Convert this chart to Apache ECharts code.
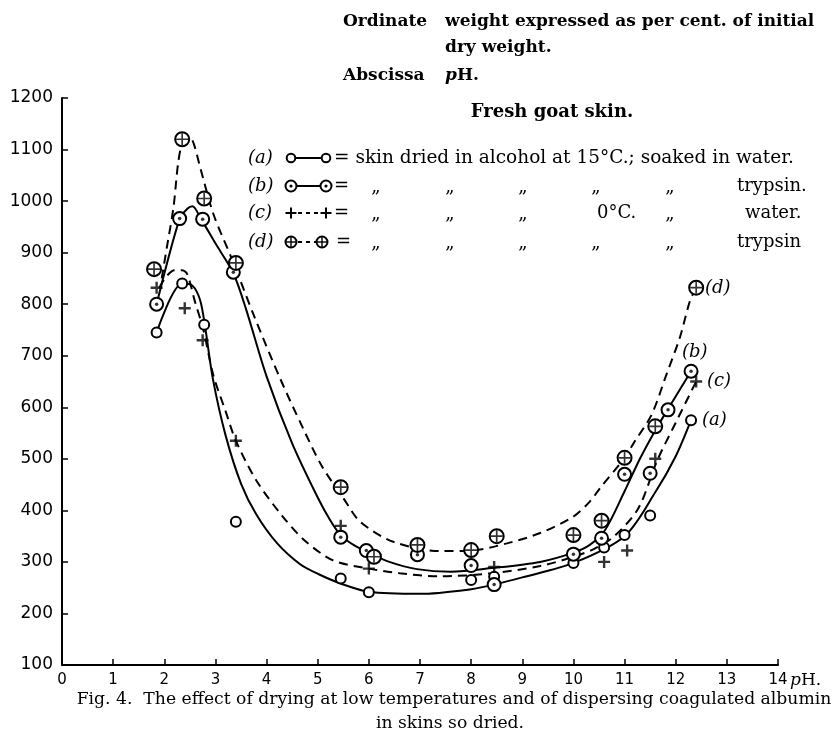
<!DOCTYPE html>
<html><head><meta charset="utf-8">
<script src="https://cdn.jsdelivr.net/npm/echarts@6/dist/echarts.min.js"></script>
<style>html,body{margin:0;padding:0;background:#fff}#c{width:839px;height:738px}</style>
</head><body><div id="c"></div>
<script>
// ---------- data ----------
const xTicks = [0,1,2,3,4,5,6,7,8,9,10,11,12,13,14];
const yTicks = [100,200,300,400,500,600,700,800,900,1000,1100,1200];

// measured points (pH, weight %)
const pointsA = [[1.85,745],[2.35,840],[2.78,760],[3.4,378],[5.45,268],[6.0,241],[8.0,265],[8.45,271],[10.0,298],[10.6,328],[11.0,352],[11.5,390],[12.3,575]];
const pointsB = [[1.85,800],[2.3,966],[2.75,965],[3.35,862],[5.45,348],[5.95,322],[6.95,314],[8.0,293],[8.45,256],[10.0,315],[10.55,346],[11.0,470],[11.5,472],[11.85,595],[12.3,670]];
const pointsC = [[1.85,832],[2.4,792],[2.75,730],[3.4,535],[5.45,370],[6.0,287],[8.45,290],[10.6,300],[11.05,322],[11.6,500],[12.4,650]];
const pointsD = [[1.8,868],[2.35,1120],[2.78,1005],[3.4,880],[5.45,445],[6.1,310],[6.95,333],[8.0,323],[8.5,350],[10.0,352],[10.55,380],[11.0,502],[11.6,563],[12.4,832]];

// hand-drawn fitted curves
const curveA = [[1.85,745],[2.35,840],[2.55,836],[2.7,808],[2.8,755],[2.95,655],[3.2,545],[3.5,452],[3.8,392],[4.2,337],[4.65,296],[5.0,277],[5.45,258],[6.0,242],[7.0,238],[8.0,247],[8.45,256],[9.0,270],[10.0,298],[11.0,350],[11.6,435],[12.0,505],[12.3,575]];
const curveB = [[1.85,800],[2.3,966],[2.45,985],[2.55,990],[2.72,965],[3.0,918],[3.35,860],[3.6,790],[4.0,660],[4.5,530],[5.0,425],[5.25,380],[5.45,352],[5.7,333],[6.0,318],[6.4,300],[6.94,286],[7.6,281],[8.4,288],[9.35,300],[10.0,318],[10.32,333],[10.62,362],[11.0,437],[11.3,500],[11.6,555],[11.9,605],[12.3,670]];
const curveC = [[1.9,832],[2.05,855],[2.2,866],[2.35,866],[2.45,858],[2.6,805],[2.76,752],[2.96,662],[3.2,592],[3.4,535],[3.8,458],[4.3,390],[4.75,341],[5.3,303],[6.0,287],[6.6,278],[7.4,272],[8.4,278],[9.35,292],[10.0,310],[10.4,325],[10.8,350],[11.27,404],[11.63,495],[12.0,570],[12.4,650]];
const curveD = [[1.95,850],[2.05,910],[2.18,988],[2.27,1073],[2.35,1112],[2.45,1122],[2.55,1118],[2.7,1066],[2.96,975],[3.35,881],[3.74,781],[4.26,657],[4.7,562],[5.08,486],[5.5,424],[5.83,378],[6.48,339],[7.39,321],[8.0,322],[8.7,336],[9.35,356],[10.0,388],[10.32,417],[10.52,443],[11.0,502],[11.2,534],[11.53,586],[11.82,664],[12.08,735],[12.28,807],[12.4,832]];

// texts
const headerLines = ['Ordinate', 'weight expressed as per cent. of initial', 'dry weight.', 'Abscissa'];
const subtitle = 'Fresh goat skin.';
const legendKeys = ['(a)', '(b)', '(c)', '(d)'];
const legendRowA = '= skin dried in alcohol at 15°C.; soaked in water.';
const legendEnds = ['trypsin.', 'water.', 'trypsin'];
const curveLabels = ['(a)', '(b)', '(c)', '(d)'];
const captionLines = ['Fig. 4.  The effect of drying at low temperatures and of dispersing coagulated albumin', 'in skins so dried.'];

// ---------- drawing ----------
const SERIF = '"DejaVu Serif", serif';
const SANS = '"DejaVu Sans", sans-serif';
const INK = '#000';
const PLUS = 'path://M4,0H6V4H10V6H6V10H4V6H0V4H4Z';
const THINPLUS = 'path://M4.3,0H5.7V4.3H10V5.7H5.7V10H4.3V5.7H0V4.3H4.3Z';

function T(x, y, text, o) {
  return { type: 'text', x: x, y: y, z: 10,
    style: Object.assign({ text: text, fontFamily: SERIF, fontSize: 18, fill: INK, align: 'left', verticalAlign: 'middle' }, o || {}) };
}
function C(cx, cy, r, lw) { return { type: 'circle', z: 10, shape: { cx: cx, cy: cy, r: r }, style: { fill: '#fff', stroke: INK, lineWidth: lw || 2 } }; }
function L(x1, y1, x2, y2, dash) { return { type: 'line', z: 9, shape: { x1: x1, y1: y1, x2: x2, y2: y2 }, style: { stroke: INK, lineWidth: 2, lineDash: dash || null } }; }
function plusG(cx, cy, h, w) {
  return [ { type: 'rect', z: 11, shape: { x: cx - h, y: cy - w / 2, width: 2 * h, height: w }, style: { fill: INK } },
           { type: 'rect', z: 11, shape: { x: cx - w / 2, y: cy - h, width: w, height: 2 * h }, style: { fill: INK } } ];
}

const g = [];
// header
g.push(T(343, 22, headerLines[0], { fontWeight: 'bold', fontSize: 17 }));
g.push(T(445, 22, headerLines[1], { fontWeight: 'bold', fontSize: 17 }));
g.push(T(445, 48, headerLines[2], { fontWeight: 'bold', fontSize: 17 }));
g.push(T(343, 76, headerLines[3], { fontWeight: 'bold', fontSize: 17 }));
g.push(T(445, 76, '{i|p}H.', { fontWeight: 'bold', fontSize: 17, rich: { i: { fontStyle: 'italic', fontWeight: 'bold', fontFamily: SERIF, fontSize: 17 } } }));
g.push(T(552, 112, subtitle, { fontWeight: 'bold', fontSize: 18, align: 'center' }));

// legend
const rowY = [158, 186, 213, 242];
const S1 = 291, S2 = 326;
legendKeys.forEach((k, i) => g.push(T(248, rowY[i], k, { fontStyle: 'italic' })));
// (a)
g.push(L(S1 + 5, rowY[0], S2 - 5, rowY[0]));
g.push(C(S1, rowY[0], 4.3)); g.push(C(S2, rowY[0], 4.3));
g.push(T(334, rowY[0], legendRowA, { fontSize: 18.5 }));
// (b)
g.push(L(S1 + 6, rowY[1], S2 - 6, rowY[1]));
g.push(C(S1, rowY[1], 5.5)); g.push(C(S2, rowY[1], 5.5));
g.push({ type: 'circle', z: 11, shape: { cx: S1, cy: rowY[1], r: 1.6 }, style: { fill: INK } });
g.push({ type: 'circle', z: 11, shape: { cx: S2, cy: rowY[1], r: 1.6 }, style: { fill: INK } });
g.push(T(334, rowY[1], '='));
// (c)
g.push(L(S1 + 7, rowY[2], S2 - 7, rowY[2], [4, 4]));
plusG(S1, rowY[2], 5.5, 2).forEach(e => g.push(e));
plusG(S2, rowY[2], 5.5, 2).forEach(e => g.push(e));
g.push(T(334, rowY[2], '='));
// (d)
g.push(L(S1 + 7, rowY[3], S2 - 10, rowY[3], [4, 4]));
g.push(C(S1, rowY[3], 5.5)); g.push(C(S2 - 4, rowY[3], 5.5));
plusG(S1, rowY[3], 5, 1.4).forEach(e => g.push(e));
plusG(S2 - 4, rowY[3], 5, 1.4).forEach(e => g.push(e));
g.push(T(336, rowY[3], '='));
// ditto marks
const dittoX = [376, 450, 523, 596, 670];
[1, 2, 3].forEach(r => {
  dittoX.forEach((x, j) => {
    if (r === 2 && j === 3) g.push(T(597, rowY[r], '0°C.', { align: 'left' }));
    else g.push(T(x, rowY[r] + 1, '\u201E', { align: 'center' }));
  });
});
g.push(T(737, rowY[1], legendEnds[0]));
g.push(T(745, rowY[2], legendEnds[1]));
g.push(T(737, rowY[3], legendEnds[2]));

// curve end labels
g.push(T(702, 420, curveLabels[0], { fontStyle: 'italic' }));
g.push(T(682, 352, curveLabels[1], { fontStyle: 'italic' }));
g.push(T(707, 381, curveLabels[2], { fontStyle: 'italic' }));
g.push(T(705, 288, curveLabels[3], { fontStyle: 'italic' }));

// x-axis unit
g.push(T(790, 681, '{i|p}H.', { fontSize: 17, rich: { i: { fontStyle: 'italic', fontFamily: SERIF, fontSize: 17 } } }));

// caption
g.push(T(454, 700, captionLines[0], { align: 'center', fontSize: 17.2 }));
g.push(T(450, 724, captionLines[1], { align: 'center', fontSize: 17.2 }));

function lineSeries(data, dashed) {
  return { type: 'line', data: data, smooth: 0.3, showSymbol: false, silent: true, z: 2,
    lineStyle: { color: INK, width: 2, type: dashed ? [9, 6] : 'solid' } };
}
function scatter(data, symbol, size, style, z) {
  return { type: 'scatter', data: data, symbol: symbol, symbolSize: size, silent: true, z: z || 5, itemStyle: style };
}
const hollow = { color: '#fff', borderColor: INK, borderWidth: 2, opacity: 1 };

const chart = echarts.init(document.getElementById('c'), null, { renderer: 'canvas' });
chart.setOption({
  backgroundColor: '#fff',
  animation: false,
  grid: { left: 62, right: 61, top: 98, bottom: 73, containLabel: false },
  xAxis: {
    type: 'value', min: xTicks[0], max: xTicks[xTicks.length - 1], interval: 1,
    axisLine: { lineStyle: { color: INK, width: 2 } },
    axisTick: { inside: true, length: 6, lineStyle: { color: INK, width: 1.5 } },
    axisLabel: { color: INK, fontFamily: SANS, fontSize: 15, margin: 8, formatter: v => String(v) },
    splitLine: { show: false }
  },
  yAxis: {
    type: 'value', min: yTicks[0], max: yTicks[yTicks.length - 1], interval: 100,
    axisLine: { show: true, lineStyle: { color: INK, width: 2 } },
    axisTick: { show: true, inside: true, length: 6, lineStyle: { color: INK, width: 1.5 } },
    axisLabel: { color: INK, fontFamily: SANS, fontSize: 17, margin: 9, formatter: v => String(v) },
    splitLine: { show: false }
  },
  graphic: g,
  series: [
    lineSeries(curveA, false),
    lineSeries(curveB, false),
    lineSeries(curveC, true),
    lineSeries(curveD, true),
    scatter(pointsA, 'circle', 10, hollow),
    scatter(pointsB, 'circle', 13, hollow),
    scatter(pointsB, 'circle', 3.5, { color: INK }, 6),
    scatter(pointsC, PLUS, 12, { color: INK }),
    scatter(pointsD, 'circle', 14, hollow),
    scatter(pointsD, THINPLUS, 12, { color: INK }, 6)
  ]
});
</script></body></html>
